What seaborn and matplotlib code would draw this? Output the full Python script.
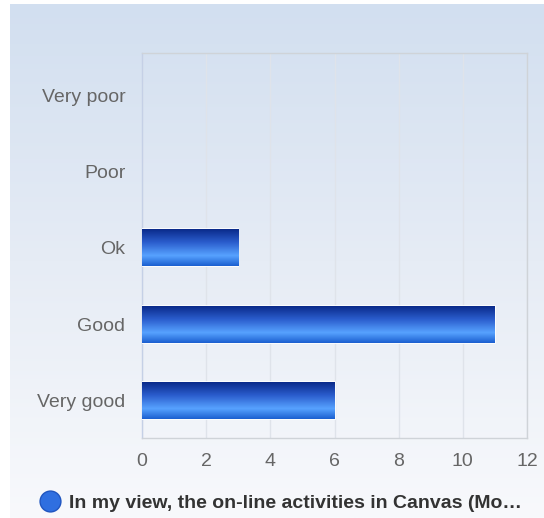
import numpy as np
import pandas as pd
import matplotlib
matplotlib.use("Agg")
import matplotlib.pyplot as plt
import seaborn as sns
from matplotlib.colors import LinearSegmentedColormap
from matplotlib.lines import Line2D

# data
categories = ["Very poor", "Poor", "Ok", "Good", "Very good"]
counts = [0, 0, 3, 11, 6]
series_name = "In my view, the on-line activities in Canvas (Mo\u2026"
x_ticks = [0, 2, 4, 6, 8, 10, 12]

df = pd.DataFrame({"answer": categories, "count": counts})

sns.set_theme(style="white")
plt.rcParams["font.family"] = ["Liberation Sans", "DejaVu Sans"]

fig = plt.figure(figsize=(5.44, 5.18), dpi=100)

# background panel with soft blue gradient
bg = fig.add_axes([10 / 544, 0, 1 - 10 / 544, 1 - 4 / 518], zorder=-2)
bg_cmap = LinearSegmentedColormap.from_list("bg", ["#d2dff0", "#e6ecf5", "#f8f9fc"])
bg.imshow(np.linspace(0, 1, 256).reshape(-1, 1), aspect="auto", cmap=bg_cmap,
          extent=[0, 1, 0, 1])
bg.axis("off")

ax = fig.add_axes([142 / 544, 80 / 518, 385 / 544, 385 / 518])
ax.patch.set_alpha(0)

sns.barplot(data=df, y="answer", x="count", order=categories, orient="h",
            width=0.48, color="#2a66d8", ax=ax, zorder=3)

# vertical gradient fill on each bar
bar_cmap = LinearSegmentedColormap.from_list(
    "bar", [(0.0, "#0a2a8a"), (0.35, "#2a5ccc"), (0.72, "#57a2ff"), (1.0, "#1b5fd0")])
grad = np.linspace(0, 1, 128).reshape(-1, 1)
for p in ax.patches:
    w = p.get_width()
    if w <= 0:
        p.set_visible(False)
        continue
    y0, h = p.get_y(), p.get_height()
    im = ax.imshow(grad, aspect="auto", cmap=bar_cmap, zorder=4,
                   extent=[0, w, y0 + h, y0])
    im.set_clip_path(p)
    p.set_edgecolor("white")
    p.set_linewidth(1.2)

ax.set_xlim(0, 12)
ax.set_ylim(4.49, -0.55)
ax.set_xticks(x_ticks)
ax.set_xlabel("")
ax.set_ylabel("")
ax.grid(axis="x", color="#dfe3ea", linewidth=1, zorder=0)
ax.tick_params(axis="both", length=0, labelsize=14, labelcolor="#666666")
ax.tick_params(axis="y", pad=12)
ax.tick_params(axis="x", pad=11)
for side in ["top", "right", "bottom"]:
    ax.spines[side].set_color("#cfd3d8")
    ax.spines[side].set_linewidth(1)
ax.spines["left"].set_color("#c5d0e6")
ax.spines["left"].set_linewidth(1)

handle = Line2D([], [], marker="o", linestyle="none", markersize=15,
                markerfacecolor="#2f6fe0", markeredgecolor="#1f55c0")
fig.legend([handle], [series_name], loc="center", bbox_to_anchor=(0.508, 1 - 503 / 518),
           frameon=False, handletextpad=0.0, borderaxespad=0,
           prop={"weight": "bold", "size": 14}, labelcolor="#333333")

fig.savefig("out.png", dpi=100)
